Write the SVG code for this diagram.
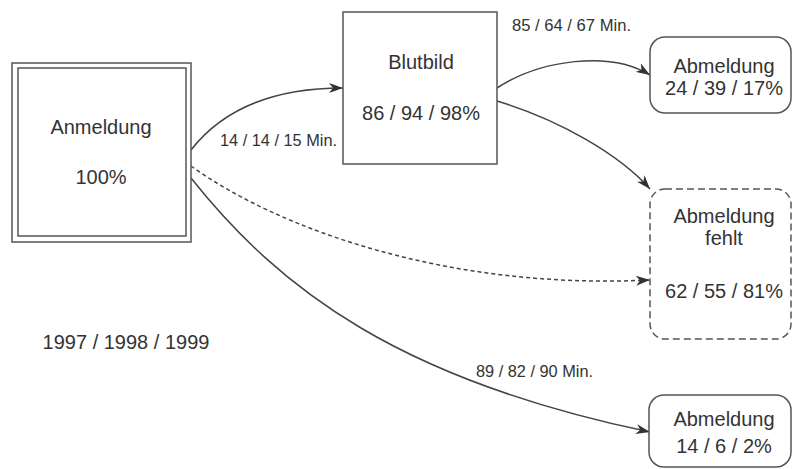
<svg xmlns="http://www.w3.org/2000/svg" width="793" height="469" viewBox="0 0 793 469">
<style>
.box{fill:#fff;stroke:#555;stroke-width:1.5}
.t{font-family:"Liberation Sans",Arial,sans-serif;font-size:20px;fill:#333;text-anchor:middle}
.l{font-family:"Liberation Sans",Arial,sans-serif;font-size:17px;fill:#333}
.c{fill:none;stroke:#444;stroke-width:1.5}
.dot{stroke-dasharray:4 3}
.dash{stroke-dasharray:7 4}
</style>
<defs>
<marker id="ah" viewBox="0 0 14 10" refX="14" refY="5" markerWidth="14" markerHeight="10" markerUnits="userSpaceOnUse" orient="auto">
<path d="M0,0 L14,5 L0,10 L4,5 Z" fill="#333"/>
</marker>
</defs>
<g id="connectors">
<path class="c" d="M191,150 C230,100 290,88 343,88" marker-end="url(#ah)"/>
<path class="c" d="M497,88 C540,60 610,50 650,75" marker-end="url(#ah)"/>
<path class="c" d="M497,101 C560,120 620,155 650,189" marker-end="url(#ah)"/>
<path class="c dot" d="M191,166 C280,230 450,290 650,280" marker-end="url(#ah)"/>
<path class="c" d="M191,178 C280,290 400,380 650,432" marker-end="url(#ah)"/>
<text class="l" x="220" y="146" textLength="117" lengthAdjust="spacingAndGlyphs">14 / 14 / 15 Min.</text>
<text class="l" x="512" y="31" textLength="119" lengthAdjust="spacingAndGlyphs">85 / 64 / 67 Min.</text>
<text class="l" x="476" y="377" textLength="117" lengthAdjust="spacingAndGlyphs">89 / 82 / 90 Min.</text>
</g>
<g id="anmeldung">
<rect class="box" x="12" y="63" width="179" height="179"/>
<rect class="box" x="18" y="68" width="168" height="168"/>
<text class="t" x="101" y="134">Anmeldung</text>
<text class="t" x="101" y="184">100%</text>
</g>
<g id="blutbild">
<rect class="box" x="343" y="12" width="154" height="152"/>
<text class="t" x="421" y="69">Blutbild</text>
<text class="t" x="421" y="120">86 / 94 / 98%</text>
</g>
<g id="abmeldung1">
<rect class="box" x="650" y="37" width="141" height="76" rx="15"/>
<text class="t" x="724" y="73">Abmeldung</text>
<text class="t" x="724" y="95">24 / 39 / 17%</text>
</g>
<g id="abmeldung-fehlt">
<rect class="box dash" x="650" y="189" width="141" height="150" rx="15"/>
<text class="t" x="724" y="223">Abmeldung</text>
<text class="t" x="724" y="245">fehlt</text>
<text class="t" x="724" y="298">62 / 55 / 81%</text>
</g>
<g id="abmeldung2">
<rect class="box" x="649" y="395" width="142" height="72" rx="15"/>
<text class="t" x="724" y="426">Abmeldung</text>
<text class="t" x="724" y="453">14 / 6 / 2%</text>
</g>
<g id="years">
<text class="t" x="126" y="349">1997 / 1998 / 1999</text>
</g>
</svg>
